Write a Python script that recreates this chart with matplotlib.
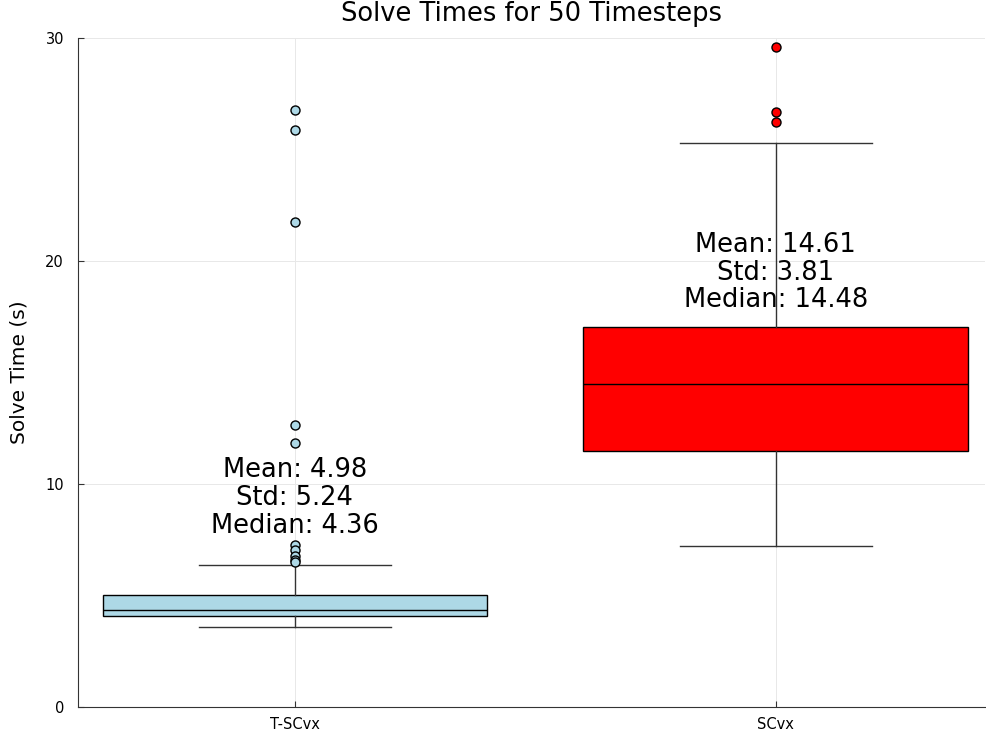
import numpy as np
import matplotlib
matplotlib.use("Agg")
import matplotlib.pyplot as plt

# box statistics
labels = ["T-SCvx", "SCvx"]
colors = ["lightblue", "red"]
whislo = [3.59, 7.22]
q1 = [4.08, 11.48]
med = [4.36, 14.48]
q3 = [5.02, 17.04]
whishi = [6.37, 25.29]
fliers = [
    [26.77, 25.87, 21.75, 12.65, 11.84, 7.25, 7.05, 6.75, 6.6, 6.5],
    [29.6, 26.68, 26.23],
]
means = [4.98, 14.61]
stds = [5.24, 3.81]

fig = plt.figure(figsize=(9.86, 7.36), dpi=100)
ax = fig.add_axes([78 / 986, 1 - 707 / 736, (985 - 78) / 986, (707 - 38) / 736])

positions = [1, 2]
for i, pos in enumerate(positions):
    st = [dict(label=labels[i], whislo=whislo[i], q1=q1[i], med=med[i],
               q3=q3[i], whishi=whishi[i], fliers=fliers[i])]
    ax.bxp(st, positions=[pos], widths=0.8, patch_artist=True,
           boxprops=dict(facecolor=colors[i], edgecolor="black", linewidth=1.0),
           medianprops=dict(color="black", linewidth=1.0),
           whiskerprops=dict(color="#333333", linewidth=1.0),
           capprops=dict(color="#333333", linewidth=1.0),
           capwidths=0.4,
           flierprops=dict(marker="o", markerfacecolor=colors[i],
                           markeredgecolor="black", markersize=6.5,
                           markeredgewidth=1.0),
           zorder=3)
    ax.text(pos, med[i] + 5,
            "Mean: %.2f\nStd: %.2f\nMedian: %.2f" % (means[i], stds[i], med[i]),
            ha="center", va="center", fontsize=18.5, linespacing=1.09, zorder=4)

ax.set_xlim(1 - 0.451, 2 + 0.435)
ax.set_ylim(0, 30)
ax.set_yticks([0, 10, 20, 30])
ax.set_xticks(positions)
ax.set_xticklabels(labels)
ax.tick_params(axis="both", direction="in", labelsize=10.5, length=4,
               color="#333333")
ax.tick_params(axis="y", pad=10)
ax.tick_params(axis="x", pad=7)
ax.grid(True, color="#e8e8e8", linewidth=0.7)
ax.set_axisbelow(True)
for s in ["top", "right"]:
    ax.spines[s].set_visible(False)
for s in ["left", "bottom"]:
    ax.spines[s].set_color("#333333")
ax.set_ylabel("Solve Time (s)", fontsize=14.5, labelpad=12)
ax.set_title("Solve Times for 50 Timesteps", fontsize=18.5, pad=12)

fig.savefig("out.png", dpi=100)
